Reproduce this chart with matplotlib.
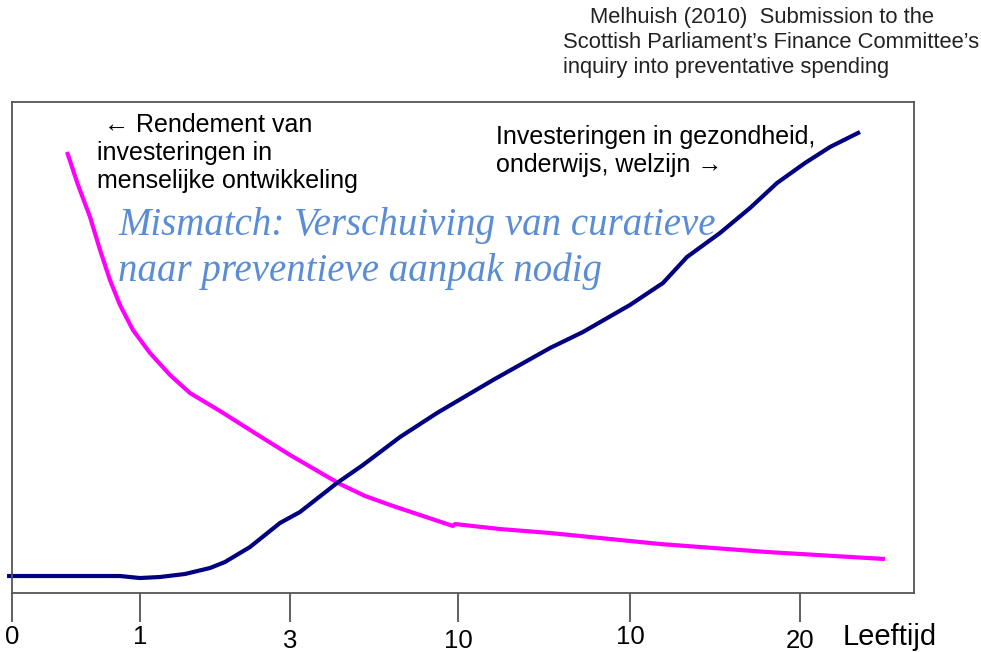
import matplotlib
matplotlib.use("Agg")
import matplotlib.pyplot as plt

plt.rcParams["font.family"] = ["Liberation Sans", "DejaVu Sans"]

# -----------------------------
# Data (arbitrary units)
# -----------------------------
invest_x = [-0.55, 5.32, 11.97, 14.19, 16.41, 19.18, 21.95, 23.61, 26.39, 29.71,
            31.93, 36.03, 38.91, 43.02, 47.12, 53.33, 59.65, 63.30, 68.51, 72.17,
            74.83, 78.49, 81.82, 84.81, 87.92, 90.69, 94.01]
invest_y = [3.46, 3.46, 3.46, 3.05, 3.26, 3.87, 5.09, 6.31, 9.37, 14.26,
            16.50, 22.40, 26.07, 31.77, 36.66, 43.38, 49.90, 53.16, 58.66, 63.14,
            68.43, 73.32, 78.41, 83.50, 87.58, 90.84, 93.89]

return_x = [6.10, 7.32, 8.65, 9.76, 10.86, 11.97, 13.41, 15.30, 17.52, 19.73,
            23.06, 26.39, 30.82, 36.36, 39.14, 42.24, 45.23, 48.89, 49.11, 54.10,
            59.65, 62.97, 71.84, 83.70, 96.78]
return_y = [89.82, 83.10, 76.58, 69.86, 63.75, 58.66, 53.56, 48.88, 44.40, 40.73,
            37.07, 33.20, 28.11, 22.20, 19.76, 17.72, 15.89, 13.65, 14.05, 13.03,
            12.22, 11.61, 9.98, 8.35, 6.92]

tick_pos = [0.0, 14.19, 30.82, 49.45, 68.51, 87.36]
tick_labels = ["0", "1", "3", "10", "10", "20"]
label_drop = [44, 44, 48, 48, 44, 48]  # staggered label heights (px below axis)

fig = plt.figure(figsize=(9.81, 6.52), dpi=100)
ax = fig.add_axes([12 / 981, 59 / 652, 902 / 981, 491 / 652])

ax.plot(return_x, return_y, color="#ff00ff", lw=3.0, solid_capstyle="butt", clip_on=False)
ax.plot(invest_x, invest_y, color="#000080", lw=3.0, solid_capstyle="butt", clip_on=False)

ax.set_xlim(0, 100)
ax.set_ylim(0, 100)
ax.set_yticks([])
for s in ax.spines.values():
    s.set_color("#555555")
    s.set_linewidth(1.3)

ax.set_xticks(tick_pos)
ax.set_xticklabels([])
ax.tick_params(axis="x", direction="out", length=21, width=1.2, color="#444444")

for pos, lab, drop in zip(tick_pos, tick_labels, label_drop):
    ax.annotate(lab, xy=(pos, 0), xycoords=("data", "axes fraction"),
                xytext=(0, -drop * 0.72), textcoords="offset points",
                ha="center", va="center", fontsize=18.5)

fig.text(843 / 981, 1 - 637 / 652, "Leeftijd", fontsize=21, ha="left", va="center")

# -----------------------------
# Annotations
# -----------------------------
ax.text(9.42, 89.6, " \u2190 Rendement van\ninvesteringen in\nmenselijke ontwikkeling",
        fontsize=18, ha="left", va="center", linespacing=1.2, color="black")
ax.text(53.66, 90.1, "Investeringen in gezondheid,\nonderwijs, welzijn \u2192",
        fontsize=18, ha="left", va="center", linespacing=1.2, color="black")

ax.text(11.75, 70.2, "Mismatch: Verschuiving van curatieve\nnaar preventieve aanpak nodig",
        fontsize=28, ha="left", va="center", linespacing=1.32, color="#5b8dd6",
        family="Liberation Serif", style="italic")

# -----------------------------
# Source note
# -----------------------------
fig.text(590 / 981, 1 - 18 / 652, "Melhuish (2010)  Submission to the",
         fontsize=15.8, ha="left", va="center", color="#222222")
fig.text(563 / 981, 1 - 54.5 / 652,
         "Scottish Parliament\u2019s Finance Committee\u2019s\ninquiry into preventative spending",
         fontsize=15.8, ha="left", va="center", linespacing=1.25, color="#222222")

fig.savefig("out.png", dpi=100)
